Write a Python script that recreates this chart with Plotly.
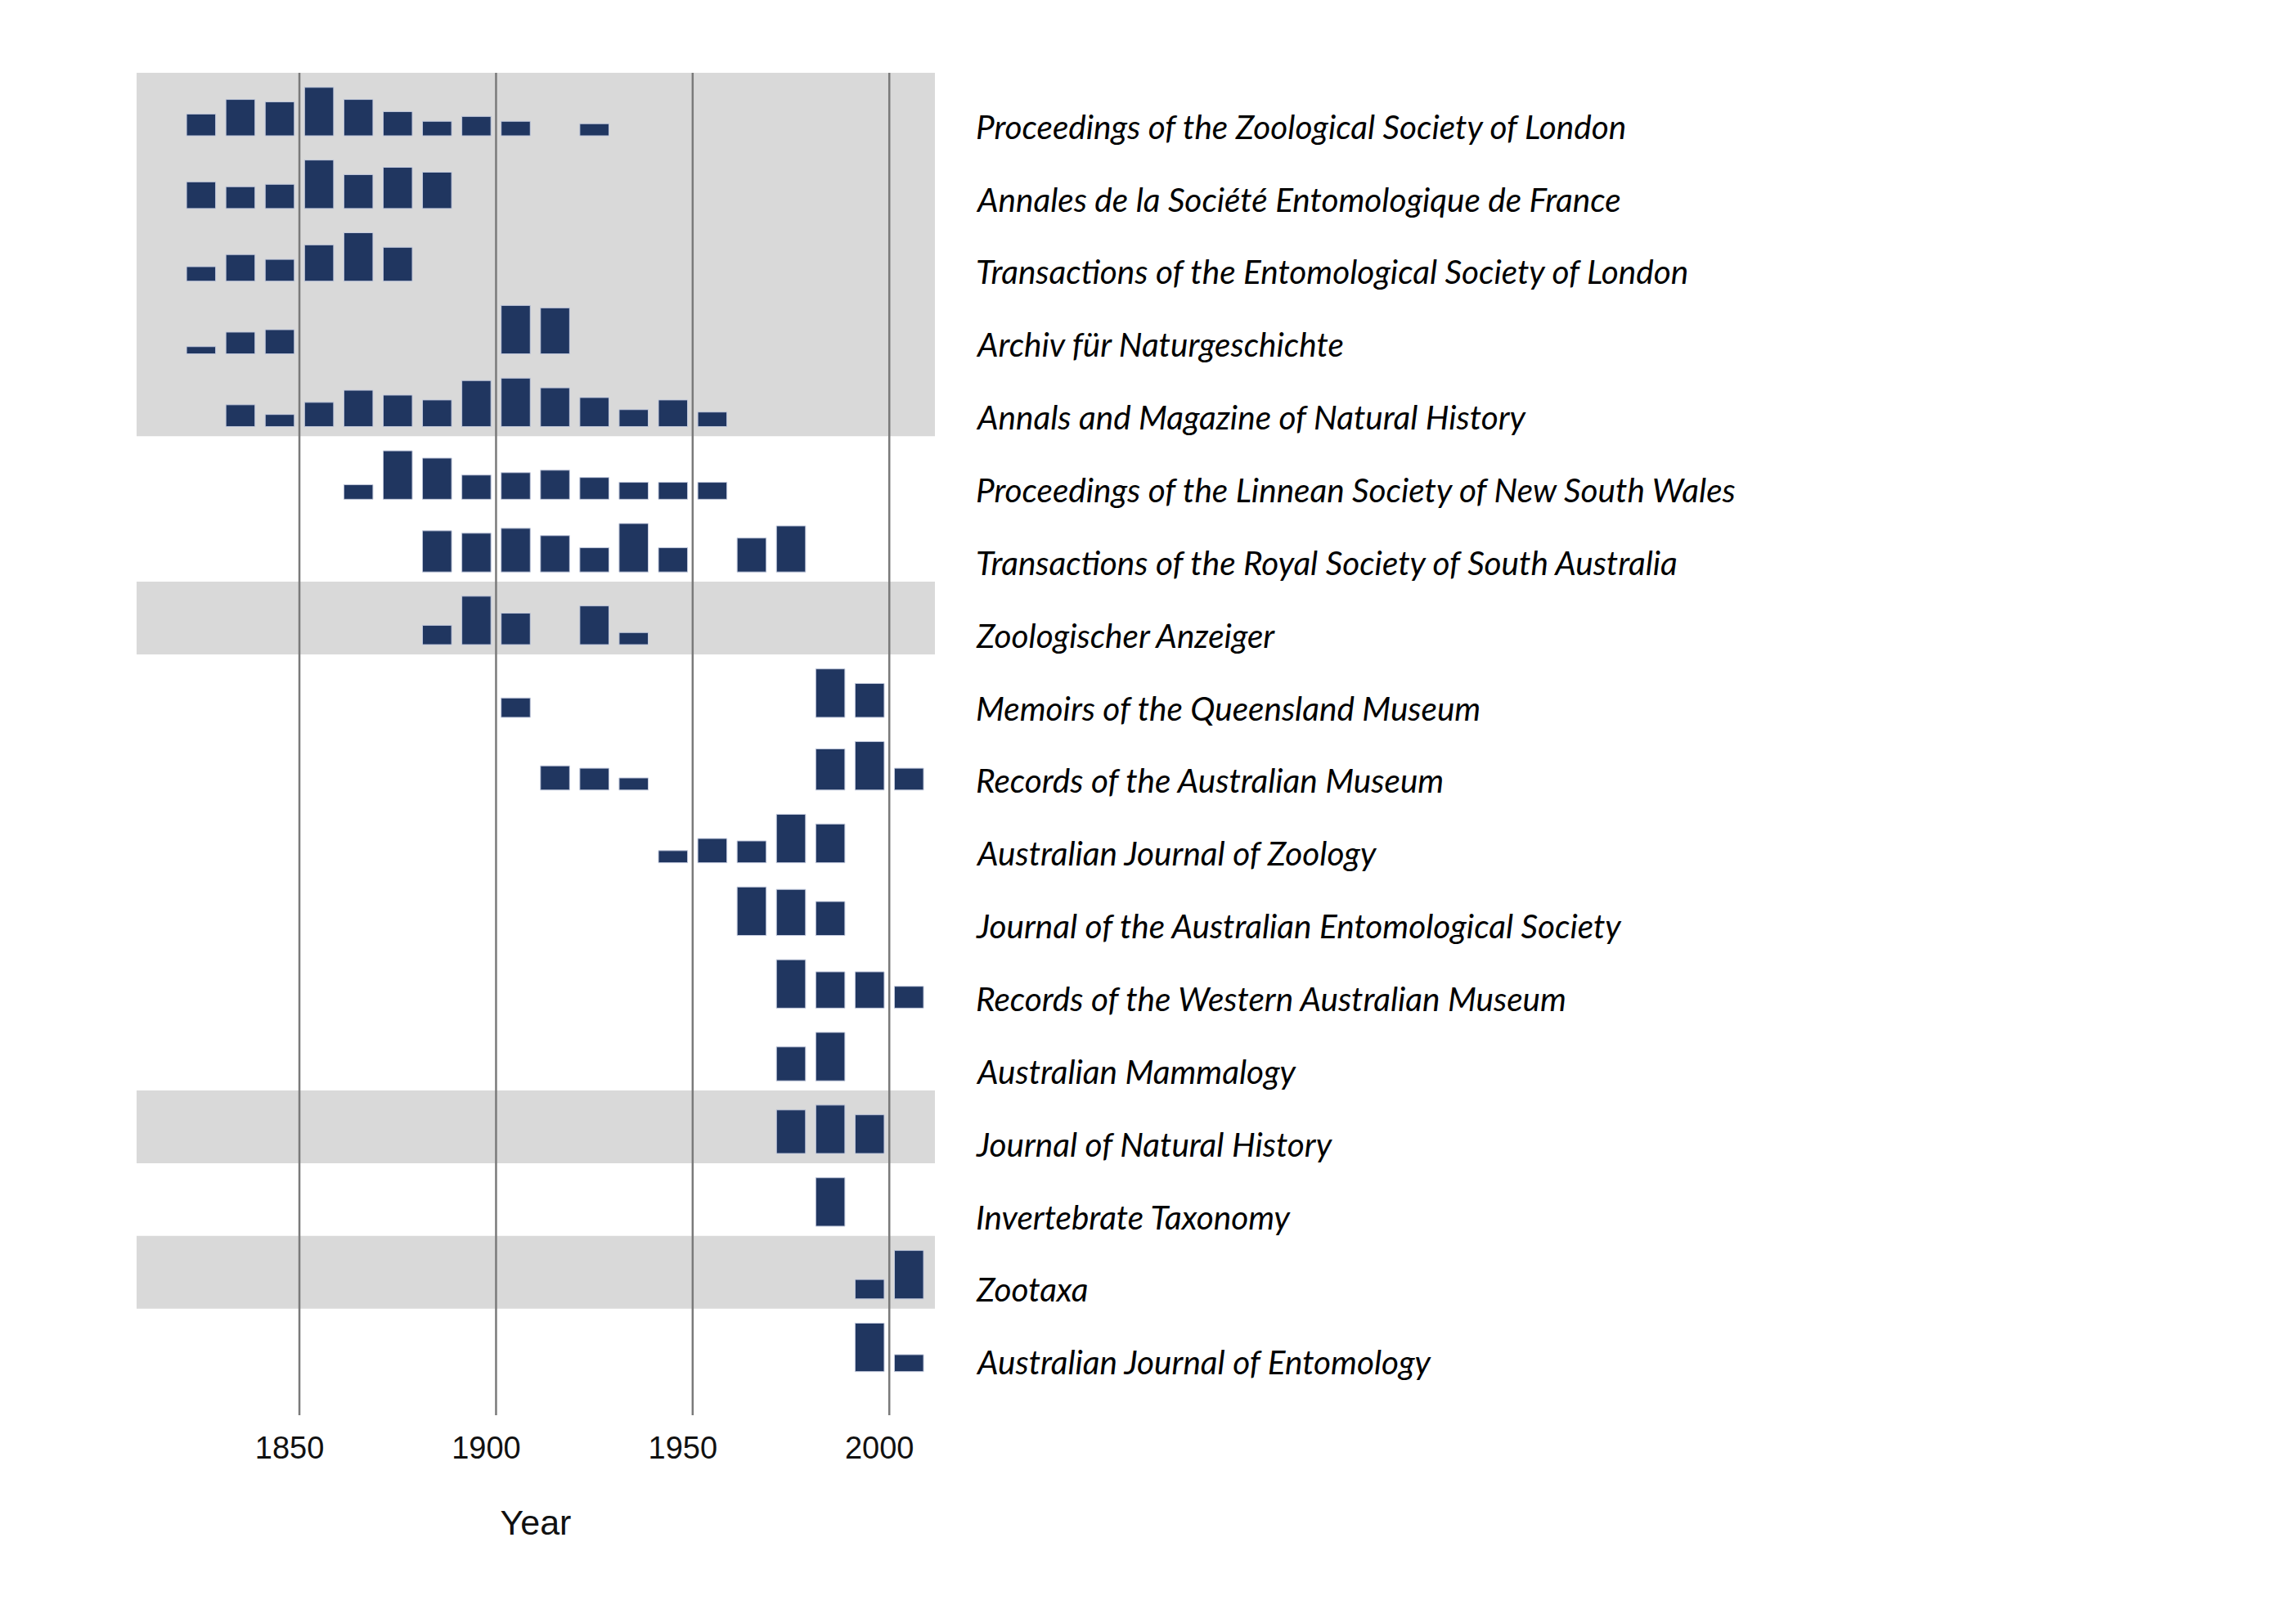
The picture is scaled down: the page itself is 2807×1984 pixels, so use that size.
import plotly.graph_objects as go

# Decade midpoints (bar centres)
decades = [1825, 1835, 1845, 1855, 1865, 1875, 1885, 1895, 1905, 1915,
           1925, 1935, 1945, 1955, 1965, 1975, 1985, 1995, 2005]

journals = [
    "Proceedings of the Zoological Society of London",
    "Annales de la Société Entomologique de France",
    "Transactions of the Entomological Society of London",
    "Archiv für Naturgeschichte",
    "Annals and Magazine of Natural History",
    "Proceedings of the Linnean Society of New South Wales",
    "Transactions of the Royal Society of South Australia",
    "Zoologischer Anzeiger",
    "Memoirs of the Queensland Museum",
    "Records of the Australian Museum",
    "Australian Journal of Zoology",
    "Journal of the Australian Entomological Society",
    "Records of the Western Australian Museum",
    "Australian Mammalogy",
    "Journal of Natural History",
    "Invertebrate Taxonomy",
    "Zootaxa",
    "Australian Journal of Entomology",
]

# relative publication counts per decade (0 = none), one list per journal
pzsl   = [9, 15, 14, 20, 15, 10, 6, 8, 6, 0, 5, 0, 0, 0, 0, 0, 0, 0, 0]
asef   = [11, 9, 10, 20, 14, 17, 15, 0, 0, 0, 0, 0, 0, 0, 0, 0, 0, 0, 0]
tesl   = [6, 11, 9, 15, 20, 14, 0, 0, 0, 0, 0, 0, 0, 0, 0, 0, 0, 0, 0]
afn    = [3, 9, 10, 0, 0, 0, 0, 0, 20, 19, 0, 0, 0, 0, 0, 0, 0, 0, 0]
amnh   = [0, 9, 5, 10, 15, 13, 11, 19, 20, 16, 12, 7, 11, 6, 0, 0, 0, 0, 0]
plsnsw = [0, 0, 0, 0, 6, 20, 17, 10, 11, 12, 9, 7, 7, 7, 0, 0, 0, 0, 0]
trssa  = [0, 0, 0, 0, 0, 0, 17, 16, 18, 15, 10, 20, 10, 0, 14, 19, 0, 0, 0]
zoola  = [0, 0, 0, 0, 0, 0, 8, 20, 13, 0, 16, 5, 0, 0, 0, 0, 0, 0, 0]
mqm    = [0, 0, 0, 0, 0, 0, 0, 0, 8, 0, 0, 0, 0, 0, 0, 0, 20, 14, 0]
ram    = [0, 0, 0, 0, 0, 0, 0, 0, 0, 10, 9, 5, 0, 0, 0, 0, 17, 20, 9]
ajz    = [0, 0, 0, 0, 0, 0, 0, 0, 0, 0, 0, 0, 5, 10, 9, 20, 16, 0, 0]
jaes   = [0, 0, 0, 0, 0, 0, 0, 0, 0, 0, 0, 0, 0, 0, 20, 19, 14, 0, 0]
rwam   = [0, 0, 0, 0, 0, 0, 0, 0, 0, 0, 0, 0, 0, 0, 0, 20, 15, 15, 9]
amam   = [0, 0, 0, 0, 0, 0, 0, 0, 0, 0, 0, 0, 0, 0, 0, 14, 20, 0, 0]
jnh    = [0, 0, 0, 0, 0, 0, 0, 0, 0, 0, 0, 0, 0, 0, 0, 18, 20, 16, 0]
invt   = [0, 0, 0, 0, 0, 0, 0, 0, 0, 0, 0, 0, 0, 0, 0, 0, 20, 0, 0]
ztx    = [0, 0, 0, 0, 0, 0, 0, 0, 0, 0, 0, 0, 0, 0, 0, 0, 0, 8, 20]
aje    = [0, 0, 0, 0, 0, 0, 0, 0, 0, 0, 0, 0, 0, 0, 0, 0, 0, 20, 7]

series = [pzsl, asef, tesl, afn, amnh, plsnsw, trssa, zoola, mqm, ram,
          ajz, jaes, rwam, amam, jnh, invt, ztx, aje]

shaded_rows = [0, 1, 2, 3, 4, 7, 14, 16]
year_ticks = [1850, 1900, 1950, 2000]

ROW = 30        # row height in value units
BASE = 26       # baseline offset from row top
BAR_COLOR = "#203660"

fig = go.Figure()

for i, (name, vals) in enumerate(zip(journals, series)):
    xs = [d for d, v in zip(decades, vals) if v > 0]
    ys = [v for v in vals if v > 0]
    fig.add_trace(go.Bar(
        x=xs, y=ys, base=-(ROW * i + BASE), width=7.4, name=name,
        marker=dict(color=BAR_COLOR, line=dict(color="#c3cadd", width=1)),
        showlegend=False, hoverinfo="x+y+name",
    ))
    fig.add_annotation(
        x=1, xref="paper", xanchor="left", xshift=48,
        y=-(ROW * i + 22.0), yref="y", yanchor="middle",
        text=name, showarrow=False,
        font=dict(family="Lato", size=40.5, color="#000000", style="italic"),
    )

# merge contiguous shaded rows into single bands (avoids seams)
spans = []
for r in sorted(shaded_rows):
    if spans and spans[-1][1] == r:
        spans[-1][1] = r + 1
    else:
        spans.append([r, r + 1])

shapes = []
for r0, r1 in spans:
    shapes.append(dict(type="rect", xref="paper", yref="y", x0=0, x1=1,
                       y0=-ROW * r0, y1=-ROW * r1, fillcolor="#d9d9d9",
                       line=dict(width=0), layer="below"))
for t in year_ticks:
    shapes.append(dict(type="line", xref="x", yref="paper", x0=t, x1=t,
                       y0=0, y1=1, line=dict(color="#7a7a7a", width=2.5),
                       layer="below"))

fig.update_layout(
    width=2807, height=1984,
    margin=dict(l=159, r=1672, t=81, b=262),
    paper_bgcolor="white", plot_bgcolor="white",
    shapes=shapes, barmode="overlay",
    font=dict(family="Liberation Sans", color="#111111"),
)
fig.update_xaxes(
    range=[1808.6, 2011.6], tickvals=year_ticks,
    ticktext=[str(t) for t in year_ticks],
    tickfont=dict(size=38, family="Liberation Sans", color="#111111"),
    ticklabelshift=-12, ticklabelstandoff=14,
    showgrid=False, zeroline=False, showline=False, ticks="",
    title=dict(text="Year", font=dict(size=43, family="Liberation Sans", color="#111111"),
               standoff=55),
)
fig.update_yaxes(range=[-554, 0], showticklabels=False, showgrid=False,
                 zeroline=False, showline=False, ticks="")

fig.write_html("out.html")
